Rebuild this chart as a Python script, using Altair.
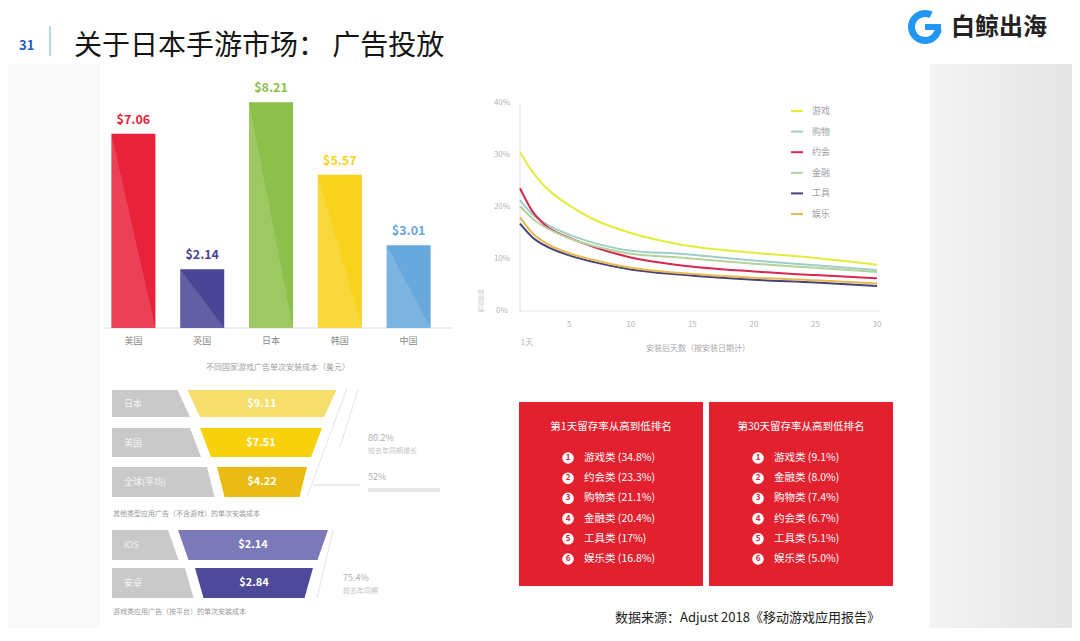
import altair as alt
import pandas as pd

FONT = "Noto Sans CJK SC"
W, H = 1064, 620


def X(v):
    return v - 8


def Y(v):
    return v - 8


# ---------------- data ----------------
page_no = "31"
title_text = "关于日本手游市场： 广告投放"
logo_text = "白鲸出海"
source_text = "数据来源：Adjust 2018《移动游戏应用报告》"

bar_cats = ["美国", "英国", "日本", "韩国", "中国"]
bar_vals = [7.06, 2.14, 8.21, 5.57, 3.01]
bar_title = "不同国家游戏广告单次安装成本（美元）"

line_series = ["游戏", "购物", "约会", "金融", "工具", "娱乐"]
line_days = [1, 2, 3, 5, 7, 10, 14, 20, 25, 30]
ret_game = [30.6, 26.8, 24.0, 20.3, 17.6, 15.0, 12.8, 11.2, 10.2, 8.9]
ret_shop = [21.3, 18.6, 16.9, 14.7, 13.1, 11.6, 11.0, 9.7, 8.8, 7.9]
ret_date = [23.6, 19.2, 16.6, 14.1, 12.3, 10.3, 8.8, 7.6, 6.9, 6.3]
ret_fin = [20.2, 17.8, 16.2, 14.0, 12.5, 11.0, 10.3, 9.1, 8.3, 7.5]
ret_tool = [16.8, 14.2, 12.6, 10.7, 9.4, 8.0, 7.0, 6.0, 5.5, 4.8]
ret_ent = [18.0, 15.0, 13.2, 11.1, 9.8, 8.3, 7.3, 6.4, 5.9, 5.3]
y_ticks = [0, 10, 20, 30, 40]
x_ticks = [5, 10, 15, 20, 25, 30]
x_title = "安装后天数（按安装日期计）"
y_title = "留存率"
first_day_label = "1天"

funnel_a_labels = ["日本", "美国", "全球(平均)"]
funnel_a_values = ["$9.11", "$7.51", "$4.22"]
funnel_a_caption = "其他类型应用广告（不含游戏）的单次安装成本"
funnel_b_labels = ["iOS", "安卓"]
funnel_b_values = ["$2.14", "$2.84"]
funnel_b_caption = "游戏类应用广告（按平台）的单次安装成本"
note_main = ["80.2%", "52%", "75.4%"]
note_sub = ["较去年同期增长", "全球平均水平之上", "较去年同期"]

rank_titles = ["第1天留存率从高到低排名", "第30天留存率从高到低排名"]
rank_d1 = ["游戏类 (34.8%)", "约会类 (23.3%)", "购物类 (21.1%)",
           "金融类 (20.4%)", "工具类 (17%)", "娱乐类 (16.8%)"]
rank_d30 = ["游戏类 (9.1%)", "金融类 (8.0%)", "购物类 (7.4%)",
            "约会类 (6.7%)", "工具类 (5.1%)", "娱乐类 (5.0%)"]

# ---------------- styles ----------------
bar_colors = ["#e8223a", "#4b4595", "#8cc04b", "#f8d21c", "#68a9dd"]
line_colors = ["#e3ec3a", "#9fd0c8", "#d8284f", "#b3d29c", "#44427c", "#e9b84c"]
red_box = "#e2202e"
ONE = pd.DataFrame({"k": [0]})


def label(text, x, y, size, color, align="left", weight="normal", angle=None):
    kw = dict(text=text, align=align, baseline="middle", fontSize=size,
              color=color, font=FONT, fontWeight=weight)
    if angle is not None:
        kw["angle"] = angle
    return alt.Chart(ONE).mark_text(**kw).encode(x=alt.value(X(x)), y=alt.value(Y(y)))


def box(x1, x2, y1, y2, color, **kw):
    return alt.Chart(ONE).mark_rect(color=color, **kw).encode(
        x=alt.value(X(x1)), x2=alt.value(X(x2)), y=alt.value(Y(y1)), y2=alt.value(Y(y2)))


def seg(x1, y1, x2, y2, color, width=1):
    return alt.Chart(ONE).mark_rule(color=color, strokeWidth=width).encode(
        x=alt.value(X(x1)), y=alt.value(Y(y1)), x2=alt.value(X(x2)), y2=alt.value(Y(y2)))


layers = []

# ---------------- background ----------------
layers.append(box(8, 100, 64, 628, "#f9f9f9"))
layers.append(alt.Chart(ONE).mark_rect(fill=alt.LinearGradient(
    gradient="linear", x1=0, y1=0, x2=1, y2=0,
    stops=[alt.GradientStop(color="#f4f4f4", offset=0),
           alt.GradientStop(color="#e4e4e4", offset=1)])).encode(
    x=alt.value(X(930)), x2=alt.value(X(1072)), y=alt.value(Y(64)), y2=alt.value(Y(628))))

# ---------------- header ----------------
layers.append(label(page_no, 19, 46, 13, "#1f5fbf", weight="bold"))
layers.append(seg(50, 26, 50, 56, "#9ec5ea", 1.5))
layers.append(label(title_text, 74, 47, 28, "#151515"))
layers.append(alt.Chart(ONE).mark_arc(theta=1.75, theta2=6.75, radius=17, radius2=10,
                                       color="#2196f3").encode(
    x=alt.value(X(925)), y=alt.value(Y(27))))
layers.append(box(925, 941, 24, 30, "#2196f3"))
layers.append(label(logo_text, 951, 28, 24, "#222222", weight="bold"))

# ---------------- bar chart ----------------
bar_df = pd.DataFrame({"cat": bar_cats, "val": bar_vals,
                       "label": ["$%.2f" % v for v in bar_vals]})
bx = alt.X("cat:N", sort=bar_cats, axis=None,
           scale=alt.Scale(range=[X(99), X(443)], paddingInner=0.36, paddingOuter=0.18))
by = alt.Y("val:Q", axis=None, scale=alt.Scale(domain=[0, 10], range=[Y(328), Y(53)]))
bcol = alt.Color("cat:N", scale=alt.Scale(domain=bar_cats, range=bar_colors), legend=None)
shine = alt.LinearGradient(
    gradient="linear", x1=0, y1=1, x2=1, y2=0,
    stops=[alt.GradientStop(color="rgba(255,255,255,0.14)", offset=0),
           alt.GradientStop(color="rgba(255,255,255,0.14)", offset=0.5),
           alt.GradientStop(color="rgba(255,255,255,0)", offset=0.5),
           alt.GradientStop(color="rgba(255,255,255,0)", offset=1)])
bar_layer = alt.layer(
    alt.Chart().mark_bar().encode(x=bx, y=by, color=bcol),
    alt.Chart().mark_bar(fill=shine).encode(x=bx, y=by),
    alt.Chart().mark_text(dy=-14, fontSize=12.5, fontWeight="bold", font=FONT).encode(
        x=bx, y=by, text="label:N", color=bcol),
    alt.Chart().mark_text(fontSize=9, color="#8a8a8a", font=FONT).encode(
        x=bx, y=alt.value(Y(341)), text="cat:N"),
    data=bar_df,
)
layers.append(seg(104, 328, 452, 328, "#dddddd"))
layers.append(bar_layer)
layers.append(label(bar_title, 278, 368, 8, "#a0a0a0", align="center"))

# ---------------- line chart ----------------
rows = []
for s, vals in zip(line_series, [ret_game, ret_shop, ret_date, ret_fin, ret_tool, ret_ent]):
    for d, v in zip(line_days, vals):
        rows.append({"series": s, "day": d, "ret": v})
line_df = pd.DataFrame(rows)
lx = alt.X("day:Q", axis=None, scale=alt.Scale(domain=[1, 30], range=[X(520), X(877)]))
ly = alt.Y("ret:Q", axis=None, scale=alt.Scale(domain=[0, 40], range=[Y(311), Y(103)]))
lcol = alt.Color("series:N", scale=alt.Scale(domain=line_series, range=line_colors), legend=None)
ytick_df = pd.DataFrame({"ret": y_ticks, "lab": ["%d%%" % t for t in y_ticks]})
xtick_df = pd.DataFrame({"day": x_ticks, "lab": [str(t) for t in x_ticks]})
line_layer = alt.layer(
    alt.Chart(line_df).mark_line(interpolate="monotone", strokeWidth=2).encode(
        x=lx, y=ly, color=lcol),
    alt.Chart(ytick_df).mark_text(align="center", fontSize=8, color="#b5b5b5", font=FONT).encode(
        x=alt.value(X(502)), y=ly, text="lab:N"),
    alt.Chart(xtick_df).mark_text(align="center", fontSize=8, color="#b5b5b5", font=FONT).encode(
        x=lx, y=alt.value(Y(325)), text="lab:N"),
)
layers.append(seg(520, 103, 520, 311, "#e2e2e2"))
layers.append(seg(520, 311, 880, 311, "#e2e2e2"))
layers.append(line_layer)
layers.append(label(first_day_label, 527, 343, 8, "#b5b5b5", align="center"))
layers.append(label(x_title, 698, 349, 8, "#a8a8a8", align="center"))
layers.append(box(478, 484, 290, 312, "#e0e0e0"))
layers.append(label(y_title, 481, 301, 6, "#ffffff", align="center", angle=270))

leg_df = pd.DataFrame({"series": line_series})
leg_y = alt.Y("series:N", sort=line_series, axis=None,
              scale=alt.Scale(type="point", domain=line_series, range=[Y(111), Y(214)], padding=0))
legend_layer = alt.layer(
    alt.Chart(leg_df).mark_rule(strokeWidth=2).encode(
        x=alt.value(X(791)), x2=alt.value(X(803)), y=leg_y, color=lcol),
    alt.Chart(leg_df).mark_text(align="left", fontSize=9, color="#a0a0a0", font=FONT).encode(
        x=alt.value(X(812)), y=leg_y, text="series:N"),
)
layers.append(legend_layer)

# ---------------- funnels ----------------
funnel_a_fill = ["#f6de6c", "#f6d10c", "#eabb12"]
funnel_b_fill = ["#7c79b9", "#4e4999"]
gray_fill = "#c9c9c9"
fa_top, fa_bot, fa_ctr = [390, 428, 467], [417, 457, 497], [262, 261, 262]
fa_hw = [(74.5, 62), (61, 50), (45, 37.5)]
fb_top, fb_bot, fb_ctr = [530, 568], [560, 598], [253, 254]
fb_hw = [(75, 64.5), (59, 50.5)]

shape_rows, shape_ids, shape_fills = [], [], []
text_rows = []


def add_funnel(prefix, tops, bots, ctrs, hws, fills, labels_, values):
    for i, (t, b, c, (ht, hb)) in enumerate(zip(tops, bots, ctrs, hws)):
        cid, gid = "%s%dc" % (prefix, i), "%s%dg" % (prefix, i)
        shape_rows.extend([
            {"shape": cid, "py": Y(t), "xl": X(c - ht), "xr": X(c + ht)},
            {"shape": cid, "py": Y(b), "xl": X(c - hb), "xr": X(c + hb)},
            {"shape": gid, "py": Y(t), "xl": X(112), "xr": X(c - ht - 10)},
            {"shape": gid, "py": Y(b), "xl": X(112), "xr": X(c - hb - 10)},
        ])
        shape_ids.extend([cid, gid])
        shape_fills.extend([fills[i], gray_fill])
        text_rows.append({"px": X(c), "py": Y((t + b) / 2), "t": values[i], "kind": "v"})
        text_rows.append({"px": X(124), "py": Y((t + b) / 2), "t": labels_[i], "kind": "l"})


add_funnel("a", fa_top, fa_bot, fa_ctr, fa_hw, funnel_a_fill, funnel_a_labels, funnel_a_values)
add_funnel("b", fb_top, fb_bot, fb_ctr, fb_hw, funnel_b_fill, funnel_b_labels, funnel_b_values)
shape_df = pd.DataFrame(shape_rows)
ftext_df = pd.DataFrame(text_rows)
layers.append(alt.Chart(shape_df).mark_area(orient="horizontal").encode(
    y=alt.Y("py:Q", scale=None, axis=None),
    x=alt.X("xl:Q", scale=None, axis=None),
    x2="xr:Q",
    detail="shape:N",
    color=alt.Color("shape:N", scale=alt.Scale(domain=shape_ids, range=shape_fills), legend=None),
))
layers.append(alt.Chart(ftext_df).transform_filter("datum.kind == 'v'").mark_text(
    align="center", fontSize=11, fontWeight="bold", color="#ffffff", font=FONT).encode(
    x=alt.X("px:Q", scale=None, axis=None), y=alt.Y("py:Q", scale=None, axis=None), text="t:N"))
layers.append(alt.Chart(ftext_df).transform_filter("datum.kind == 'l'").mark_text(
    align="left", fontSize=9, color="#f4f4f4", font=FONT).encode(
    x=alt.X("px:Q", scale=None, axis=None), y=alt.Y("py:Q", scale=None, axis=None), text="t:N"))

layers.append(seg(347, 388, 307, 497, "#e4e4e4"))
layers.append(seg(358, 390, 340, 447, "#e4e4e4"))
layers.append(seg(313, 485, 360, 485, "#d6d6d6"))
layers.append(seg(333, 530, 317, 598, "#e4e4e4"))
layers.append(label(note_main[0], 368, 438, 9, "#b0b0b0"))
layers.append(label(note_sub[0], 368, 451, 7, "#c4c4c4"))
layers.append(label(note_main[1], 368, 477, 9, "#b0b0b0"))
layers.append(box(368, 440, 488, 492, "#e6e6e6"))
layers.append(label(note_main[2], 343, 578, 9, "#b0b0b0"))
layers.append(label(note_sub[2], 343, 591, 7, "#c4c4c4"))
layers.append(label(funnel_a_caption, 113, 514, 7, "#9a9a9a"))
layers.append(label(funnel_b_caption, 113, 612, 7, "#9a9a9a"))

# ---------------- ranking boxes ----------------
layers.append(box(519, 703, 402, 586, red_box))
layers.append(box(709, 893, 402, 586, red_box))
layers.append(label(rank_titles[0], 611, 427, 10.5, "#ffffff", align="center"))
layers.append(label(rank_titles[1], 801, 427, 10.5, "#ffffff", align="center"))
rank_rows = []
for bname, items in [("d1", rank_d1), ("d30", rank_d30)]:
    for i, t in enumerate(items):
        rank_rows.append({"box": bname, "rank": i + 1, "item": t})
rank_df = pd.DataFrame(rank_rows)
rx = alt.X("box:N", axis=None,
           scale=alt.Scale(type="point", domain=["d1", "d30"], range=[X(568), X(758)], padding=0))
ry = alt.Y("rank:O", axis=None,
           scale=alt.Scale(type="point", domain=[1, 2, 3, 4, 5, 6], range=[Y(458), Y(559)], padding=0))
rank_layer = alt.layer(
    alt.Chart().mark_circle(size=135, color="#ffffff", opacity=1).encode(x=rx, y=ry),
    alt.Chart().mark_text(fontSize=8, fontWeight="bold", color=red_box, font=FONT).encode(
        x=rx, y=ry, text="rank:O"),
    alt.Chart().mark_text(align="left", dx=16, fontSize=10.5, color="#ffffff", font=FONT).encode(
        x=rx, y=ry, text="item:N"),
    data=rank_df,
)
layers.append(rank_layer)

# ---------------- footer ----------------
layers.append(label(source_text, 615, 618, 13, "#222222"))

chart = alt.layer(*layers).resolve_scale(
    x="independent", y="independent", color="independent"
).properties(
    width=W, height=H, autosize=alt.AutoSizeParams(type="none"), padding=0,
    background="#ffffff",
).configure_view(stroke=None)

chart.save("out.html", embed_options={"renderer": "svg", "actions": False})
